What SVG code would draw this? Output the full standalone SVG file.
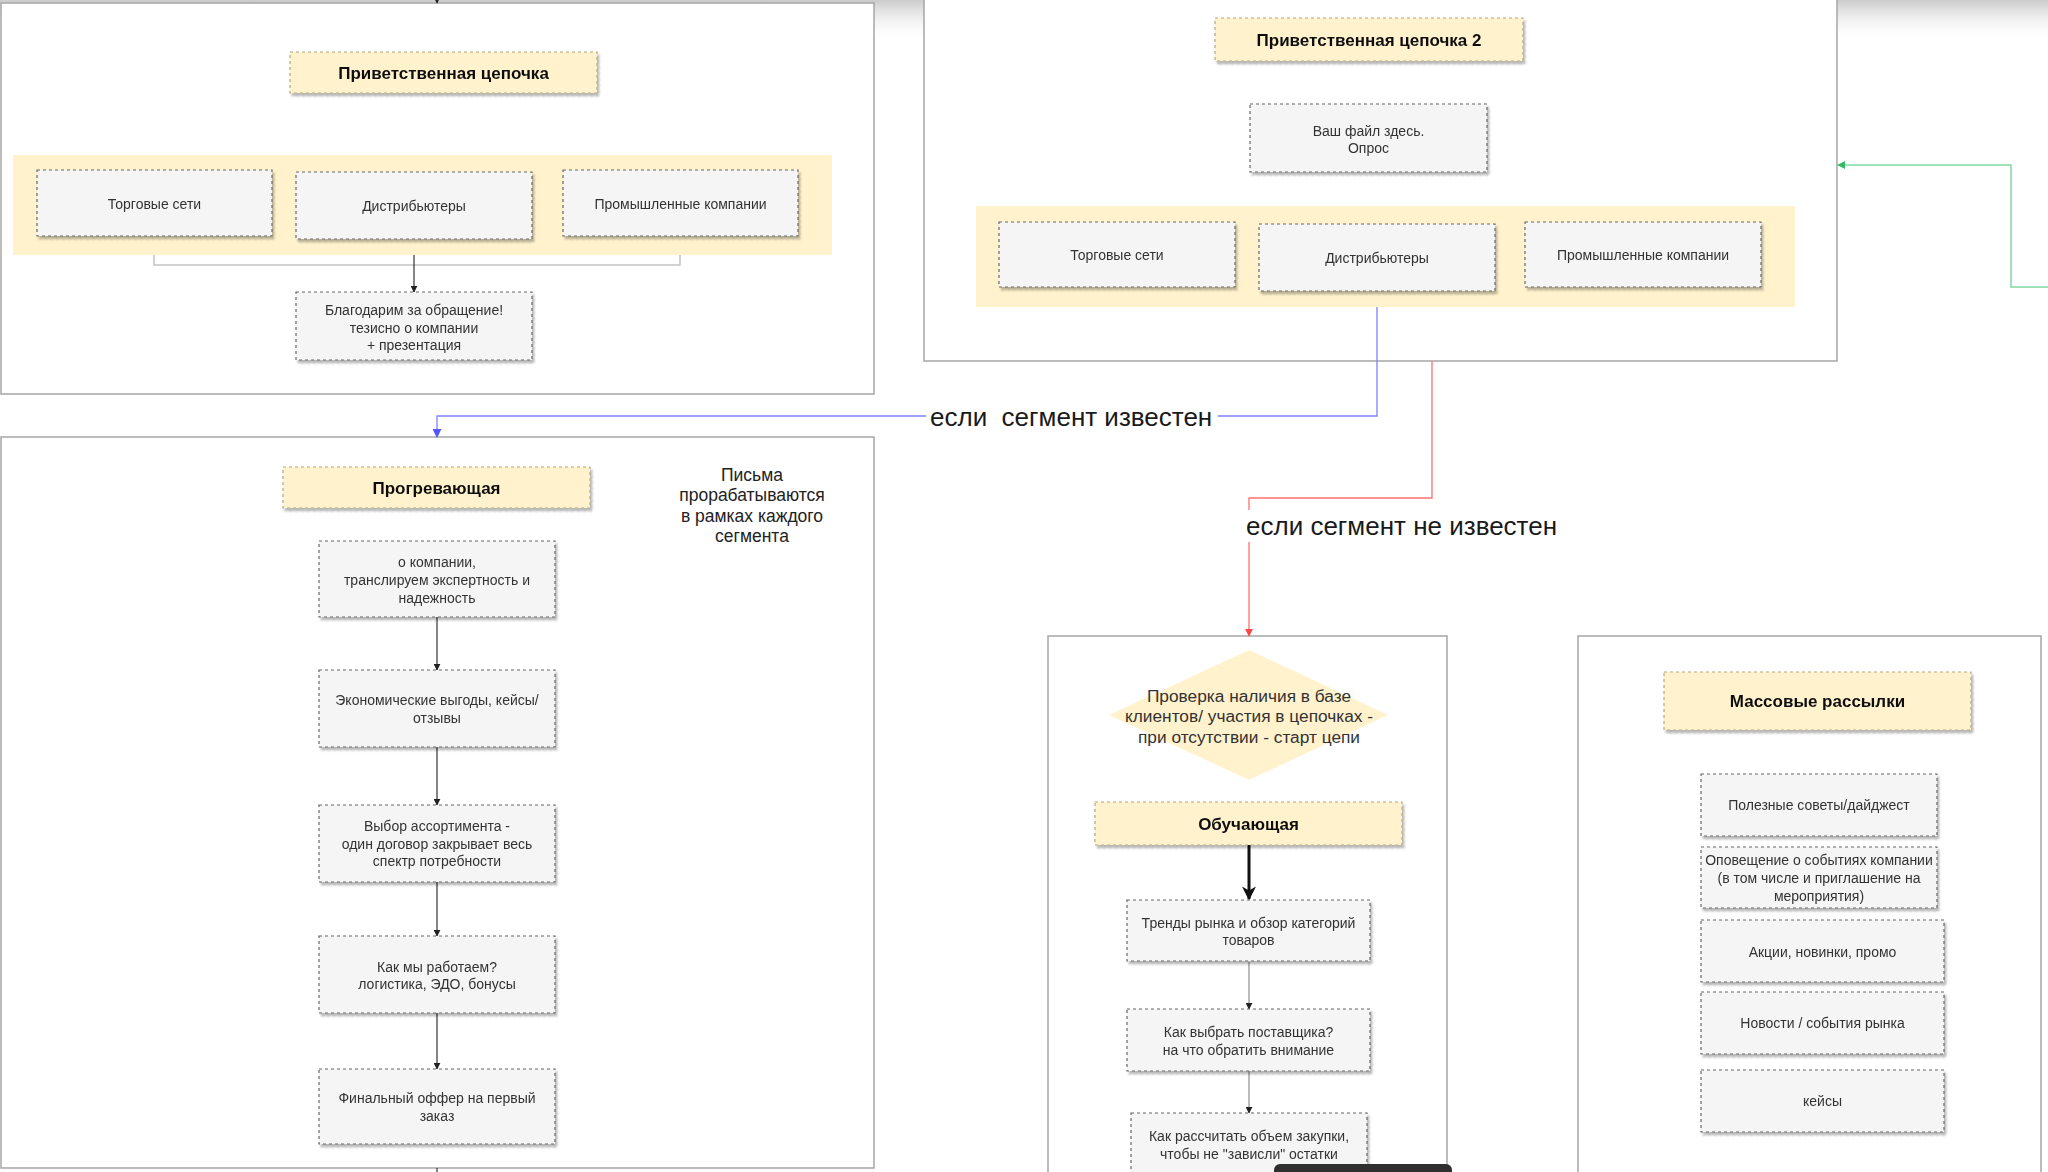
<svg xmlns="http://www.w3.org/2000/svg" width="2048" height="1172" viewBox="0 0 2048 1172">
<defs>
<linearGradient id="topfade" x1="0" y1="0" x2="0" y2="1">
<stop offset="0" stop-color="#cbcbcb"/>
<stop offset="1" stop-color="#ffffff" stop-opacity="0"/>
</linearGradient>
<filter id="sh" x="-5%" y="-10%" width="115%" height="130%">
<feDropShadow dx="2" dy="3" stdDeviation="1" flood-color="#000" flood-opacity="0.28"/>
</filter>
<marker id="ab" viewBox="0 0 10 10" refX="9" refY="5" markerWidth="7" markerHeight="7" markerUnits="userSpaceOnUse" orient="auto"><path d="M0,0 L10,5 L0,10 z" fill="#222"/></marker>
<marker id="abig" viewBox="0 0 10 10" refX="9" refY="5" markerWidth="14" markerHeight="14" markerUnits="userSpaceOnUse" orient="auto"><path d="M0,0 L10,5 L0,10 L3,5 z" fill="#111"/></marker>
<marker id="ablue" viewBox="0 0 10 10" refX="9" refY="5" markerWidth="9" markerHeight="9" markerUnits="userSpaceOnUse" orient="auto"><path d="M0,0 L10,5 L0,10 z" fill="#5555ff"/></marker>
<marker id="ared" viewBox="0 0 10 10" refX="9" refY="5" markerWidth="8" markerHeight="8" markerUnits="userSpaceOnUse" orient="auto"><path d="M0,0 L10,5 L0,10 z" fill="#ff4444"/></marker>
<marker id="agreen" viewBox="0 0 10 10" refX="9" refY="5" markerWidth="8" markerHeight="8" markerUnits="userSpaceOnUse" orient="auto"><path d="M0,0 L10,5 L0,10 z" fill="#33bb66"/></marker>
</defs>
<style>
.panel{fill:#ffffff;stroke:#a6a6a6;stroke-width:1.5}
.band{fill:#fff2cc;stroke:none}
.box{fill:#f5f5f5;stroke:#666;stroke-width:1.2;stroke-dasharray:3 3}
.title{fill:#fff2cc;stroke:#b5a67e;stroke-width:1.2;stroke-dasharray:3 3}
.bt{font-family:"Liberation Sans",Arial,sans-serif;font-size:14px;fill:#333;text-anchor:middle;dominant-baseline:central}
.tt{font-family:"Liberation Sans",Arial,sans-serif;font-size:17px;font-weight:bold;fill:#111;text-anchor:middle;dominant-baseline:central}
.lbl{font-family:"Liberation Sans",Arial,sans-serif;font-size:26px;fill:#1a1a1a;dominant-baseline:central}
.note{font-family:"Liberation Sans",Arial,sans-serif;font-size:17.5px;fill:#222;text-anchor:middle;dominant-baseline:central}
.dt{font-family:"Liberation Sans",Arial,sans-serif;font-size:17.3px;fill:#333;text-anchor:middle;dominant-baseline:central}
.c{fill:none;stroke:#333;stroke-width:1.2}
</style>
<rect width="2048" height="1172" fill="#ffffff"/>
<rect x="0" y="0" width="2048" height="42" fill="url(#topfade)"/>

<g id="panels">
<rect id="panel-welcome" class="panel" x="1" y="3" width="873" height="391"/>
<rect id="panel-welcome2" class="panel" x="924" y="-10" width="913" height="371"/>
<rect id="panel-warm" class="panel" x="1" y="437" width="873" height="731"/>
<rect id="panel-edu" class="panel" x="1048" y="636" width="399" height="560"/>
<rect id="panel-mass" class="panel" x="1578" y="636" width="463" height="560"/>
</g>

<g id="connectors">
<line class="c" x1="437" y1="-6" x2="437" y2="3" marker-end="url(#ab)"/>
<line class="c" x1="437" y1="1168" x2="437" y2="1172"/>
<path d="M154,236 V265 H680 V236" fill="none" stroke="#c4c4c4" stroke-width="1.5"/>
<line class="c" x1="414" y1="239" x2="414" y2="292" marker-end="url(#ab)"/>
<path d="M1377,291 V416 H437 V437" fill="none" stroke="#8080ff" stroke-width="1.3" marker-end="url(#ablue)"/>
<path d="M1432,361 V498 H1249 V636" fill="none" stroke="#ff7070" stroke-width="1.3" marker-end="url(#ared)"/>
<path d="M2048,287 H2011 V165 H1838" fill="none" stroke="#7fd9a0" stroke-width="1.5" marker-end="url(#agreen)"/>
<line class="c" x1="437" y1="617" x2="437" y2="670" marker-end="url(#ab)"/>
<line class="c" x1="437" y1="747" x2="437" y2="805" marker-end="url(#ab)"/>
<line class="c" x1="437" y1="882" x2="437" y2="936" marker-end="url(#ab)"/>
<line class="c" x1="437" y1="1013" x2="437" y2="1069" marker-end="url(#ab)"/>
<line x1="1249" y1="845" x2="1249" y2="899" stroke="#111" stroke-width="3" marker-end="url(#abig)"/>
<line x1="1249" y1="962" x2="1249" y2="1009" stroke="#777" stroke-width="1" marker-end="url(#ab)"/>
<line x1="1249" y1="1071" x2="1249" y2="1113" stroke="#777" stroke-width="1" marker-end="url(#ab)"/>
<rect x="926" y="402" width="292" height="30" fill="#ffffff"/>
<text class="lbl" x="930" y="417" xml:space="preserve">если  сегмент известен</text>
<rect x="1243" y="510" width="320" height="32" fill="#ffffff"/>
<text class="lbl" x="1246" y="526">если сегмент не известен</text>
</g>

<g id="welcome-title" filter="url(#sh)"><rect class="title" x="290" y="52" width="307" height="41"/><text class="tt" x="443.5" y="73">Приветственная цепочка</text></g>
<rect id="welcome-band" class="band" x="13" y="155" width="819" height="100"/>
<g id="w-retail" filter="url(#sh)"><rect class="box" x="37" y="170" width="235" height="66"/><text class="bt" x="154.5" y="204">Торговые сети</text></g>
<g id="w-distr" filter="url(#sh)"><rect class="box" x="296" y="172" width="236" height="67"/><text class="bt" x="414" y="206">Дистрибьютеры</text></g>
<g id="w-industry" filter="url(#sh)"><rect class="box" x="563" y="170" width="235" height="66"/><text class="bt" x="680.5" y="204">Промышленные компании</text></g>
<g id="w-thanks" filter="url(#sh)"><rect class="box" x="296" y="292" width="236" height="68"/><text class="bt" x="414" y="310">Благодарим за обращение!</text><text class="bt" x="414" y="328">тезисно о компании</text><text class="bt" x="414" y="345">+ презентация</text></g>

<g id="welcome2-title" filter="url(#sh)"><rect class="title" x="1215" y="18" width="308" height="43"/><text class="tt" x="1369" y="40">Приветственная цепочка 2</text></g>
<g id="w2-file" filter="url(#sh)"><rect class="box" x="1250" y="104" width="237" height="68"/><text class="bt" x="1368.5" y="131">Ваш файл здесь.</text><text class="bt" x="1368.5" y="148">Опрос</text></g>
<rect id="welcome2-band" class="band" x="976" y="206" width="819" height="101"/>
<g id="w2-retail" filter="url(#sh)"><rect class="box" x="999" y="222" width="236" height="65"/><text class="bt" x="1117" y="255">Торговые сети</text></g>
<g id="w2-distr" filter="url(#sh)"><rect class="box" x="1259" y="224" width="236" height="67"/><text class="bt" x="1377" y="258">Дистрибьютеры</text></g>
<g id="w2-industry" filter="url(#sh)"><rect class="box" x="1525" y="222" width="236" height="65"/><text class="bt" x="1643" y="255">Промышленные компании</text></g>

<g id="warm-title" filter="url(#sh)"><rect class="title" x="283" y="467" width="307" height="41"/><text class="tt" x="436.5" y="488">Прогревающая</text></g>
<g id="warm-note"><text class="note" x="752" y="475">Письма</text><text class="note" x="752" y="495">прорабатываются</text><text class="note" x="752" y="516">в рамках каждого</text><text class="note" x="752" y="536">сегмента</text></g>
<g id="warm-1" filter="url(#sh)"><rect class="box" x="319" y="541" width="236" height="76"/><text class="bt" x="437" y="562">о компании,</text><text class="bt" x="437" y="580">транслируем экспертность и</text><text class="bt" x="437" y="598">надежность</text></g>
<g id="warm-2" filter="url(#sh)"><rect class="box" x="319" y="670" width="236" height="77"/><text class="bt" x="437" y="700">Экономические выгоды, кейсы/</text><text class="bt" x="437" y="718">отзывы</text></g>
<g id="warm-3" filter="url(#sh)"><rect class="box" x="319" y="805" width="236" height="77"/><text class="bt" x="437" y="826">Выбор ассортимента -</text><text class="bt" x="437" y="844">один договор закрывает весь</text><text class="bt" x="437" y="861">спектр потребности</text></g>
<g id="warm-4" filter="url(#sh)"><rect class="box" x="319" y="936" width="236" height="77"/><text class="bt" x="437" y="967">Как мы работаем?</text><text class="bt" x="437" y="984">логистика, ЭДО, бонусы</text></g>
<g id="warm-5" filter="url(#sh)"><rect class="box" x="319" y="1069" width="236" height="75"/><text class="bt" x="437" y="1098">Финальный оффер на первый</text><text class="bt" x="437" y="1116">заказ</text></g>

<g id="check"><path d="M1249,650 L1388,715 L1249,780 L1109,715 Z" fill="#fff2cc"/><text class="dt" x="1249" y="696">Проверка наличия в базе</text><text class="dt" x="1249" y="716">клиентов/ участия в цепочках -</text><text class="dt" x="1249" y="737">при отсутствии - старт цепи</text></g>
<g id="edu-title" filter="url(#sh)"><rect class="title" x="1095" y="802" width="307" height="43"/><text class="tt" x="1248.5" y="824">Обучающая</text></g>
<g id="edu-1" filter="url(#sh)"><rect class="box" x="1127" y="900" width="243" height="61"/><text class="bt" x="1248.5" y="923">Тренды рынка и обзор категорий</text><text class="bt" x="1248.5" y="940">товаров</text></g>
<g id="edu-2" filter="url(#sh)"><rect class="box" x="1127" y="1009" width="243" height="62"/><text class="bt" x="1248.5" y="1032">Как выбрать поставщика?</text><text class="bt" x="1248.5" y="1050">на что обратить внимание</text></g>
<g id="edu-3" filter="url(#sh)"><rect class="box" x="1131" y="1113" width="236" height="80"/><text class="bt" x="1249" y="1136">Как рассчитать объем закупки,</text><text class="bt" x="1249" y="1154">чтобы не "зависли" остатки</text></g>

<g id="mass-title" filter="url(#sh)"><rect class="title" x="1664" y="672" width="307" height="58"/><text class="tt" x="1817.5" y="701">Массовые рассылки</text></g>
<g id="mass-1" filter="url(#sh)"><rect class="box" x="1701" y="774" width="236" height="62"/><text class="bt" x="1819" y="805">Полезные советы/дайджест</text></g>
<g id="mass-2" filter="url(#sh)"><rect class="box" x="1701" y="847" width="236" height="61"/><text class="bt" x="1819" y="860">Оповещение о событиях компании</text><text class="bt" x="1819" y="878">(в том числе и приглашение на</text><text class="bt" x="1819" y="896">мероприятия)</text></g>
<g id="mass-3" filter="url(#sh)"><rect class="box" x="1701" y="920" width="243" height="62"/><text class="bt" x="1822.5" y="952">Акции, новинки, промо</text></g>
<g id="mass-4" filter="url(#sh)"><rect class="box" x="1701" y="992" width="243" height="62"/><text class="bt" x="1822.5" y="1023">Новости / события рынка</text></g>
<g id="mass-5" filter="url(#sh)"><rect class="box" x="1701" y="1070" width="243" height="62"/><text class="bt" x="1822.5" y="1101">кейсы</text></g>

<rect id="bottom-bar" x="1274" y="1164" width="178" height="20" rx="6" fill="#2f2f2f"/>
</svg>
